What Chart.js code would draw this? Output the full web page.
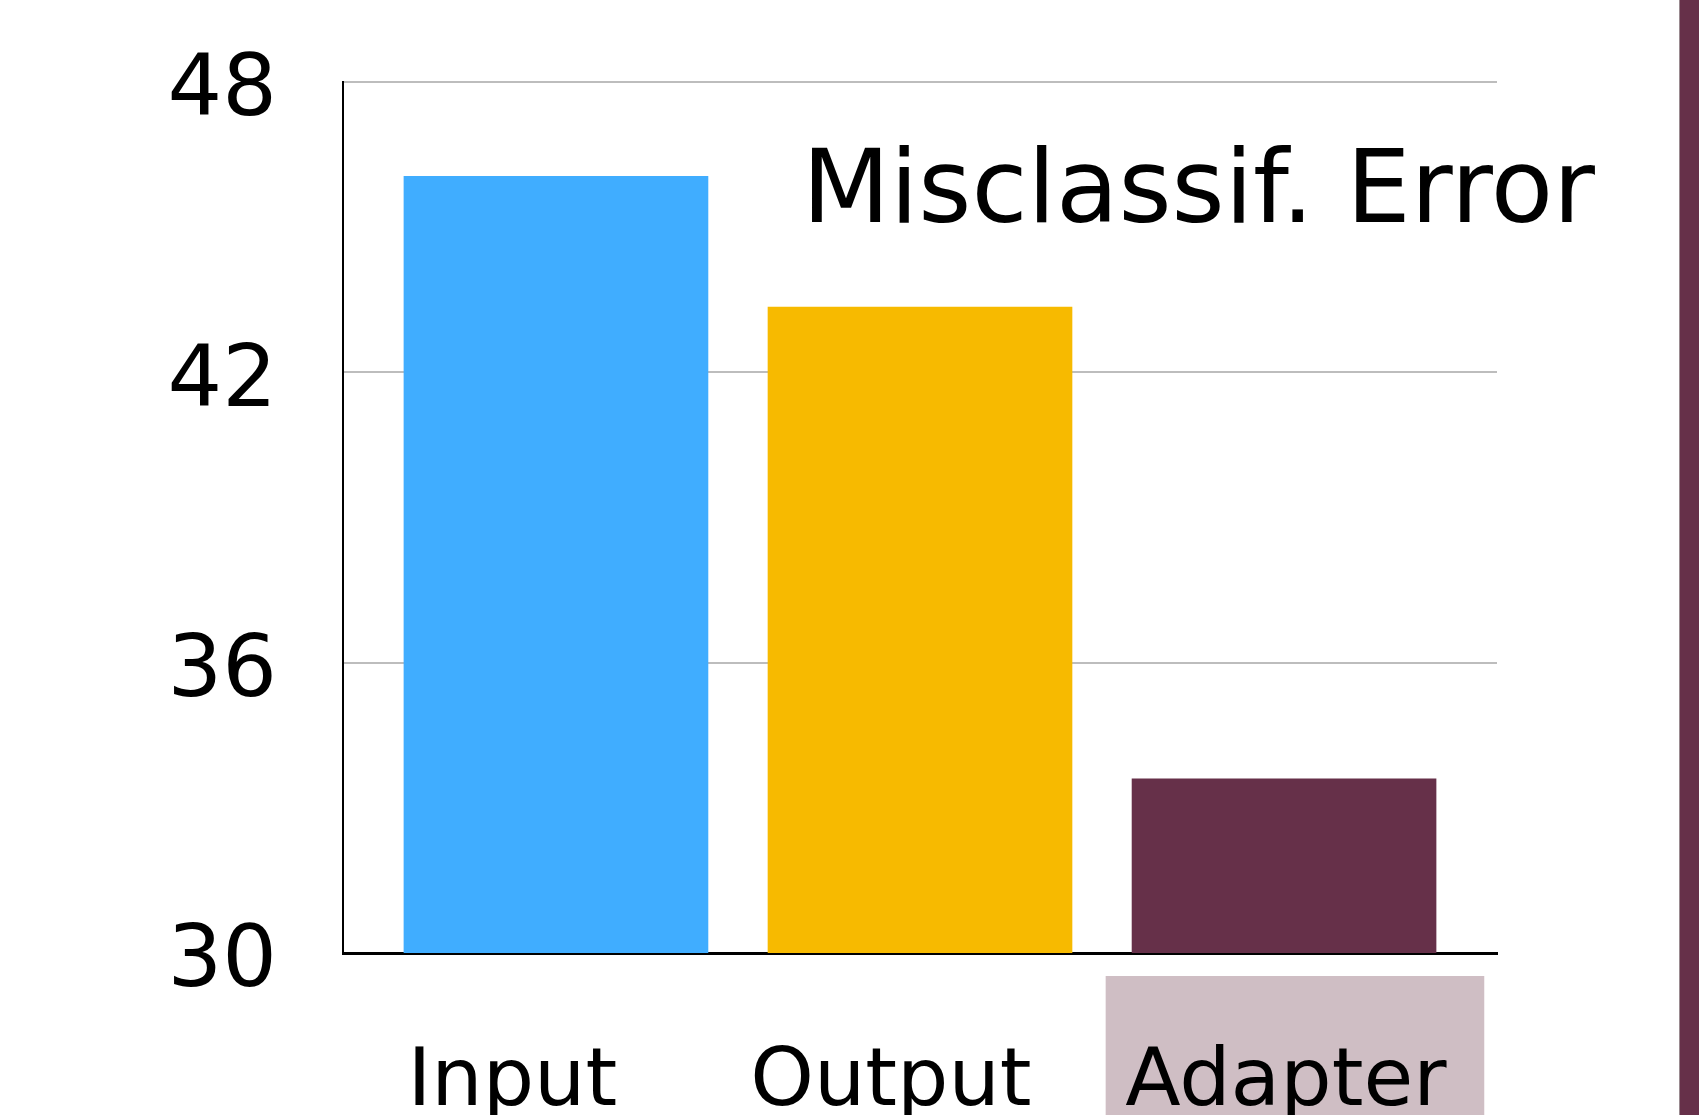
<!DOCTYPE html>
<html>
<head>
<meta charset="utf-8">
<script src="https://cdn.jsdelivr.net/npm/chart.js@4/dist/chart.umd.min.js"></script>
<style>
html,body{margin:0;padding:0;background:#fff;}
#wrap{width:1699px;height:1115px;position:relative;}
</style>
</head>
<body>
<div id="wrap"><canvas id="c" width="1699" height="1115"></canvas></div>
<script>
const categories = ["Input", "Output", "Adapter"];
const values = [46.05, 43.35, 33.6];
const barColors = ["#40ADFF", "#F7BA00", "#663049"];
const yTicks = [30, 36, 42, 48];
const labelOffsets = [-0.12, -0.08, 0.005];
const chartTitle = "Misclassif. Error";
const highlightIndex = 2;

const FONT = "'DejaVu Sans', Verdana, sans-serif";

const decor = {
  id: 'decor',
  beforeDraw(chart) {
    const ctx = chart.ctx;
    const xs = chart.scales.x;
    const area = chart.chartArea;
    ctx.save();
    ctx.fillStyle = '#fff';
    ctx.fillRect(0, 0, chart.width, chart.height);
    const l = xs.getPixelForValue(highlightIndex - 0.49);
    const r = xs.getPixelForValue(highlightIndex + 0.55);
    ctx.fillStyle = '#CFBEC4';
    ctx.fillRect(l, area.bottom + 23, r - l, chart.height - area.bottom - 23);
    ctx.fillStyle = '#663049';
    ctx.fillRect(chart.width - 19, 0, 19, chart.height);
    ctx.fillStyle = '#9a8a90';
    ctx.fillRect(chart.width - 20, 0, 1, chart.height);
    ctx.restore();
  },
  afterDraw(chart) {
    const ctx = chart.ctx;
    ctx.save();
    ctx.fillStyle = '#000';
    ctx.font = "102px " + FONT;
    ctx.textBaseline = 'alphabetic';
    ctx.textAlign = 'left';
    ctx.fillText(chartTitle, 802, 222);
    ctx.restore();
  }
};

new Chart(document.getElementById('c'), {
  type: 'bar',
  data: {
    datasets: [{
      data: categories.map((c, i) => ({x: i, y: values[i]})),
      backgroundColor: barColors,
      borderWidth: 0,
      barThickness: 304
    }]
  },
  options: {
    responsive: false,
    animation: false,
    events: [],
    layout: { padding: { top: 82, right: 202, bottom: 0, left: 0 } },
    plugins: { legend: { display: false }, tooltip: { enabled: false }, title: { display: false } },
    scales: {
      x: {
        type: 'linear',
        offset: false,
        min: -0.585,
        max: 2.585,
        grid: { display: false, drawTicks: false, offset: false },
        border: { display: true, color: '#000', width: 3 },
        afterBuildTicks(scale) {
          scale.ticks = categories.map((c, i) => ({ value: i + labelOffsets[i] }));
        },
        afterFit(scale) { scale.height = 162; scale.paddingLeft = 0; scale.paddingRight = 0; },
        ticks: {
          autoSkip: false,
          maxRotation: 0,
          minRotation: 0,
          padding: 82,
          color: '#000',
          font: { family: FONT, size: 81 },
          callback(value, index) { return categories[index]; }
        }
      },
      y: {
        min: 30,
        max: 48,
        afterBuildTicks(scale) {
          scale.ticks = yTicks.map(v => ({ value: v }));
        },
        afterFit(scale) { scale.width = 343; scale.paddingTop = 0; scale.paddingBottom = 0; },
        grid: { color: '#BDBDBD', lineWidth: 2, drawTicks: false },
        border: { display: true, color: '#000', width: 2 },
        ticks: {
          padding: 66,
          labelOffset: 11,
          color: '#000',
          font: { family: FONT, size: 86 }
        }
      }
    }
  },
  plugins: [decor]
});
</script>
</body>
</html>
